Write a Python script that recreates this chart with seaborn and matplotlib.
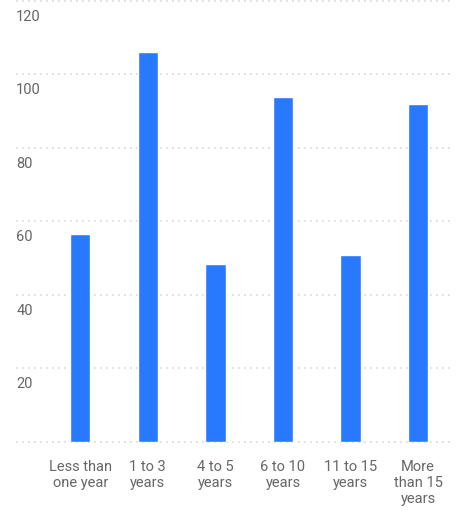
import matplotlib.pyplot as plt
import matplotlib.transforms as mtransforms
import seaborn as sns

categories = ["Less than\none year", "1 to 3\nyears", "4 to 5\nyears",
              "6 to 10\nyears", "11 to 15\nyears", "More\nthan 15\nyears"]
values = [56.5, 106, 48.5, 94, 51, 92]
y_ticks = [20, 40, 60, 80, 100, 120]

sns.set_theme(style="white")
plt.rcParams['font.family'] = ['Roboto', 'DejaVu Sans']

fig = plt.figure(figsize=(4.61, 5.12), dpi=100)
ax = fig.add_axes([0.035, 0.137, 0.945, 0.861])

sns.barplot(x=categories, y=values, color="#2979ff", saturation=1,
            width=0.3, ax=ax)

ax.set_ylim(0, 120)
ax.set_xlim(-0.95, 5.5)
for t in [0] + y_ticks:
    ax.axhline(t, color="#d9d9d9", lw=1.2, dashes=(1, 2.6), zorder=0,
               clip_on=False)

# y labels sit just under their gridline, inside the plot
trans = mtransforms.offset_copy(ax.get_yaxis_transform(), fig=fig,
                                x=0, y=-9, units="dots")
for t in y_ticks:
    ax.text(0, t, str(t), transform=trans, ha="left", va="top",
            fontsize=10.5, color="#666666")

ax.set_yticks([])
ax.set_xlabel("")
ax.set_ylabel("")
ax.tick_params(axis="x", length=0, pad=13, labelsize=10.5,
               labelcolor="#666666")
for lbl in ax.get_xticklabels():
    lbl.set_linespacing(1.2)
sns.despine(left=True, bottom=True)

fig.savefig("out.png", dpi=100)
